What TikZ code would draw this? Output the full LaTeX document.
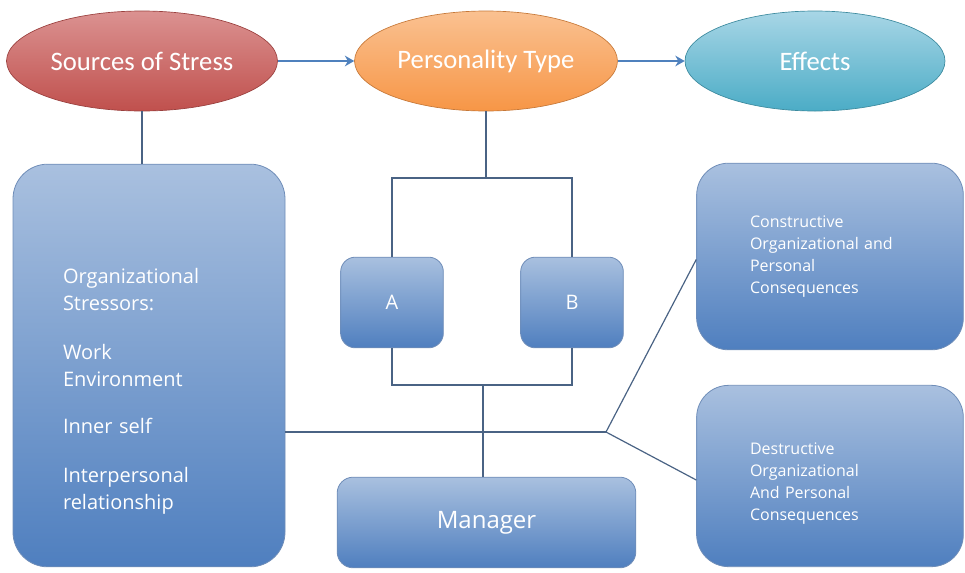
\documentclass[tikz,border=0pt]{standalone}
\usepackage{fontspec}
\setmainfont{Open Sans}
\newfontfamily\ovalfont{Carlito}
\usetikzlibrary{shapes,arrows.meta,positioning,calc}

\definecolor{boxtop}{HTML}{A9C0DF}
\definecolor{boxbot}{HTML}{4F7FBF}
\definecolor{boxline}{HTML}{6F8DB8}
\definecolor{redtop}{HTML}{DB9291}
\definecolor{redbot}{HTML}{C0504D}
\definecolor{orangetop}{HTML}{FAC191}
\definecolor{orangebot}{HTML}{F79646}
\definecolor{cyantop}{HTML}{A8D6E6}
\definecolor{cyanbot}{HTML}{4BACC6}
\definecolor{linkcol}{HTML}{4A6384}
\definecolor{arrowcol}{HTML}{4F81BD}

\tikzset{
  oval/.style={ellipse, draw=#1bot!80!black, line width=0.5pt, top color=#1top, bottom color=#1bot,
    minimum width=195pt, minimum height=75pt, text=white, font=\ovalfont\fontsize{20}{24}\selectfont},
  bluebox/.style={rectangle, draw=boxline, line width=0.6pt, top color=boxtop, bottom color=boxbot,
    text=white, inner sep=0pt},
  link/.style={draw=linkcol, line width=0.9pt},
  flow/.style={draw=arrowcol, line width=1.6pt, -{Stealth[length=7pt,width=8pt]}}
}

\begin{document}
\begin{tikzpicture}[x=0.75pt, y=-0.75pt]
    \useasboundingbox (0,0) rectangle (965,572);

    % Top row of ovals
    \node[oval=red] (src) at (142,61) {Sources of Stress};
    \node[oval=orange] (ptype) at (486,61) {Personality Type};
    \node[oval=cyan] (eff) at (815,61) {Effects};

    % Arrows between the ovals
    \draw[flow] (src.east) -- (ptype.west);
    \draw[flow] (ptype.east) -- (eff.west);

    % Stressors box
    \node[bluebox, rounded corners=26pt, minimum width=204pt, minimum height=302pt,
      text width=129pt, align=left, font=\fontsize{15}{20}\selectfont] (stressors) at (149,365.5)
      {\rule{0pt}{50pt}Organizational\\Stressors:\\[17pt]Work\\Environment\\[15pt]Inner self\\[17pt]Interpersonal\\relationship};

    % Personality types
    \node[bluebox, rounded corners=11pt, minimum width=77pt, minimum height=68pt,
      font=\fontsize{15}{18}\selectfont] (typeA) at (392,302.5) {A};
    \node[bluebox, rounded corners=11pt, minimum width=77pt, minimum height=68pt,
      font=\fontsize{15}{18}\selectfont] (typeB) at (572,302.5) {B};

    % Manager box
    \node[bluebox, rounded corners=12pt, minimum width=224pt, minimum height=68pt,
      font=\fontsize{18}{20}\selectfont] (mgr) at (486.5,522.5) {Manager};

    % Effects boxes
    \node[bluebox, rounded corners=24pt, minimum width=200pt, minimum height=140pt,
      text width=120pt, align=left, font=\fontsize{12}{16.5}\selectfont] (cons) at (830,256.5)
      {Constructive\\Organizational and\\Personal\\Consequences};
    \node[bluebox, rounded corners=24pt, minimum width=200pt, minimum height=136pt,
      text width=120pt, align=left, font=\fontsize{12}{16.5}\selectfont] (dest) at (830,476)
      {\rule{0pt}{20pt}Destructive\\Organizational\\And Personal\\Consequences};

    % Junction points
    \coordinate (split) at (486,178);
    \coordinate (merge) at (483,385);
    \coordinate (hub) at (606,432);

    % Sources of Stress down to the stressors
    \draw[link] (src.south) -- (src.south |- stressors.north);

    % Personality Type splits to A and B
    \draw[link] (ptype.south) -- (split);
    \draw[link] (typeA.north) |- (split) -| (typeB.north);

    % A and B join and go down to Manager
    \draw[link] (typeA.south) |- (merge) -| (typeB.south);
    \draw[link] (merge) -- (mgr.north -| merge);

    % Stressors across to the effects
    \draw[link] (stressors.east |- hub) -- (hub);
    \draw[link] (hub) -- ($(cons.west)+(0,3)$);
    \draw[link] (hub) -- ($(dest.west)+(0,4)$);
\end{tikzpicture}
\end{document}
